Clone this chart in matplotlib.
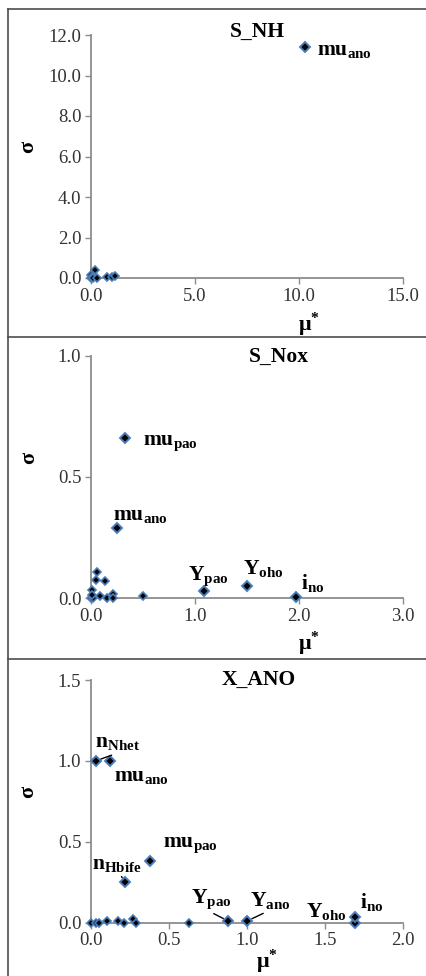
#!/usr/bin/env python3
"""
Morris screening plots (mu* vs sigma) for S_NH, S_Nox and X_ANO
"""

import matplotlib.pyplot as plt
from matplotlib.lines import Line2D

plt.rcParams['font.family'] = ['Liberation Serif', 'DejaVu Serif']
plt.rcParams['mathtext.fontset'] = 'custom'
plt.rcParams['mathtext.rm'] = 'Liberation Serif'
plt.rcParams['mathtext.bf'] = 'Liberation Serif:bold'
plt.rcParams['mathtext.it'] = 'Liberation Serif:italic'

# ---- data: S_NH ----
snh_small_x = [0.0, 0.02, 0.05, 0.1, 0.2, 0.3, 0.75, 1.0, 1.15]
snh_small_y = [0.0, 0.15, 0.05, 0.0, 0.4, 0.02, 0.05, 0.07, 0.08]
snh_names = ['mu_ano']
snh_x = [10.3]
snh_y = [11.4]

# ---- data: S_Nox ----
snox_small_x = [0.0, 0.02, 0.006, 0.01, 0.054, 0.048, 0.086, 0.134, 0.15, 0.21, 0.21, 0.5]
snox_small_y = [0.0, 0.0, 0.034, 0.015, 0.11, 0.075, 0.01, 0.073, 0.0, 0.018, 0.003, 0.01]
snox_names = ['mu_pao', 'mu_ano', 'Y_pao', 'Y_oho', 'i_no']
snox_x = [0.33, 0.25, 1.09, 1.5, 1.97]
snox_y = [0.66, 0.29, 0.03, 0.05, 0.005]

# ---- data: X_ANO ----
xano_small_x = [0.0, 0.03, 0.05, 0.1, 0.17, 0.21, 0.27, 0.29, 0.63]
xano_small_y = [0.0, 0.0, 0.0, 0.01, 0.01, 0.0, 0.02, 0.0, 0.0]
xano_names = ['n_Nhet', 'mu_ano', 'mu_pao', 'n_Hbife', 'Y_pao', 'Y_ano', 'Y_oho', 'i_no']
xano_x = [0.03, 0.12, 0.38, 0.22, 0.88, 1.0, 1.69, 1.69]
xano_y = [1.0, 1.0, 0.38, 0.25, 0.01, 0.01, 0.0, 0.037]

BLUE = '#4a7ebb'
SPINE = '#8c8c8c'


def label_text(name):
    base, sub = name.split('_')
    return r'$\mathbf{%s}_{\mathbf{%s}}$' % (base, sub)


def setup_axes(ax, xticks, yticks, title, title_pos, xlabel_pos, ylabel_pos):
    ax.set_xlim(xticks[0], xticks[-1])
    ax.set_ylim(yticks[0], yticks[-1])
    ax.set_xticks(xticks)
    ax.set_yticks(yticks)
    ax.set_xticklabels([f'{t:.1f}' for t in xticks])
    ax.set_yticklabels([f'{t:.1f}' for t in yticks])
    for side in ['top', 'right']:
        ax.spines[side].set_visible(False)
    for side in ['left', 'bottom']:
        ax.spines[side].set_color(SPINE)
        ax.spines[side].set_linewidth(1.3)
    ax.tick_params(direction='out', length=4, width=1, color=SPINE,
                   labelsize=13.5, labelcolor='#333333', pad=3)
    ax.text(title_pos[0], title_pos[1], title, transform=ax.transAxes,
            ha='center', va='baseline', fontsize=15.5, fontweight='bold')
    ax.set_xlabel(r'μ$^{\mathbf{*}}$', fontsize=16, fontweight='bold')
    ax.xaxis.set_label_coords(*xlabel_pos)
    ax.set_ylabel('σ', fontsize=16, fontweight='bold')
    ax.yaxis.set_label_coords(*ylabel_pos)
    ax.set_facecolor('none')


def draw_points(ax, sx, sy, x, y):
    ax.plot(sx, sy, 'D', ms=3.8, mfc='black', mec=BLUE, mew=1.2,
            clip_on=False, zorder=3)
    ax.plot(x, y, 'D', ms=5.5, mfc='black', mec=BLUE, mew=1.4,
            clip_on=False, zorder=4)


def add_labels(ax, names, x, y, offsets, leaders=None):
    leaders = leaders or {}
    for name, px, py in zip(names, x, y):
        key = (name, px)
        dx, dy, ha = offsets[key]
        kw = {}
        if key in leaders:
            kw['arrowprops'] = dict(arrowstyle='-', color='black', lw=1.0,
                                    shrinkA=0, shrinkB=4, relpos=leaders[key])
        ax.annotate(label_text(name), xy=(px, py), xytext=(dx, dy),
                    textcoords='offset pixels', ha=ha, va='center',
                    fontsize=15.5, zorder=5, **kw)


fig = plt.figure(figsize=(4.26, 9.76), dpi=100)

left, width = 91 / 426, 312 / 426

# panel 1
ax1 = fig.add_axes([left, 1 - 278 / 976, width, 243 / 976])
setup_axes(ax1, [0, 5, 10, 15], [0, 2, 4, 6, 8, 10, 12], 'S_NH',
           (0.532, 0.992), (0.70, -0.135), (-0.17, 0.54))
draw_points(ax1, snh_small_x, snh_small_y, snh_x, snh_y)
add_labels(ax1, snh_names, snh_x, snh_y, {('mu_ano', 10.3): (12, -3, 'left')})

# panel 2
ax2 = fig.add_axes([left, 1 - 598.3 / 976, width, 242.6 / 976])
setup_axes(ax2, [0, 1, 2, 3], [0, 0.5, 1.0], 'S_Nox',
           (0.603, 0.975), (0.70, -0.128), (-0.167, 0.577))
draw_points(ax2, snox_small_x, snox_small_y, snox_x, snox_y)
add_labels(ax2, snox_names, snox_x, snox_y, {
    ('mu_pao', 0.33): (18, -5, 'left'),
    ('mu_ano', 0.25): (-4, 12, 'left'),
    ('Y_pao', 1.09): (-16, 15, 'left'),
    ('Y_oho', 1.5): (-4, 18, 'left'),
    ('i_no', 1.97): (5, 14, 'left'),
})

# panel 3
ax3 = fig.add_axes([left, 1 - 922.7 / 976, width, 242.7 / 976])
setup_axes(ax3, [0, 0.5, 1.0, 1.5, 2.0], [0, 0.5, 1.0, 1.5], 'X_ANO',
           (0.538, 0.979), (0.564, -0.105), (-0.17, 0.54))
draw_points(ax3, xano_small_x, xano_small_y, xano_x, xano_y)
add_labels(ax3, xano_names, xano_x, xano_y, {
    ('n_Nhet', 0.03): (-1, 18, 'left'),
    ('mu_ano', 0.12): (4, -16, 'left'),
    ('mu_pao', 0.38): (13, 16, 'left'),
    ('n_Hbife', 0.22): (-33, 18, 'left'),
    ('Y_pao', 0.88): (-37, 22, 'left'),
    ('Y_ano', 1.0): (3, 21, 'left'),
    ('Y_oho', 1.69): (-8, 11, 'right'),
    ('i_no', 1.69): (5, 15, 'left'),
}, leaders={
    ('n_Nhet', 0.03): (0.55, 0.0),
    ('n_Hbife', 0.22): (0.55, 0.0),
    ('Y_pao', 0.88): (0.42, 0.0),
    ('Y_ano', 1.0): (0.47, 0.0),
})

# panel frame lines
line_kw = dict(color='#4d4d4d', lw=1.2, transform=fig.transFigure)
x0 = 8 / 426
fig.add_artist(Line2D([x0, 1], [1 - 9 / 976] * 2, **line_kw))
fig.add_artist(Line2D([x0, x0], [0, 1 - 9 / 976], **line_kw))
fig.add_artist(Line2D([x0, 1], [1 - 336.7 / 976] * 2, **line_kw))
fig.add_artist(Line2D([x0, 1], [1 - 659 / 976] * 2, **line_kw))

fig.savefig('out.png', dpi=100, facecolor='white')
